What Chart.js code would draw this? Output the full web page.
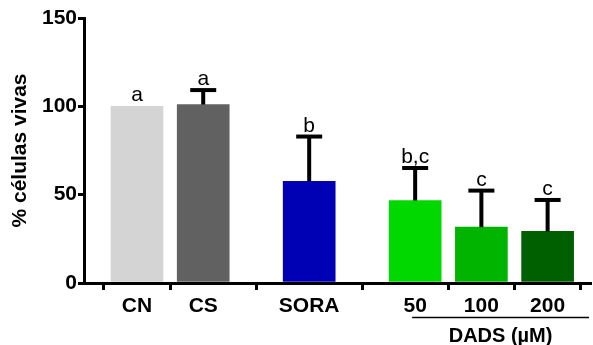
<!DOCTYPE html>
<html>
<head>
<meta charset="utf-8">
<script src="https://cdn.jsdelivr.net/npm/chart.js@4"></script>
<style>
  html, body { margin: 0; padding: 0; background: #fff; }
  #wrap { width: 593px; height: 345px; }
</style>
</head>
<body>
<div id="wrap"><canvas id="chart" width="593" height="345"></canvas></div>
<script>
  // Groups and where they sit on the x axis (gaps between groups)
  const groups = ['CN', 'CS', 'SORA', '50', '100', '200'];
  const xPositions = [0, 1, 2.6, 4.2, 5.2, 6.2];
  // Mean % living cells and upper error (SD)
  const viability = [100, 101, 57.6, 46.7, 31.6, 29.2];
  const errors = [0, 8.2, 25.3, 18.4, 20.7, 17.8];
  // Significance letters
  const letters = ['a', 'a', 'b', 'b,c', 'c', 'c'];
  const barColors = ['#d4d4d4', '#616161', '#0000b4', '#00d800', '#00b400', '#006000'];
  const yTicks = [0, 50, 100, 150];

  const FONT = '"Liberation Sans", Arial, sans-serif';

  // Draws error bars, letters and the DADS bracket
  const extras = {
    id: 'extras',
    afterDatasetsDraw(chart) {
      const ctx = chart.ctx;
      const x = chart.scales.x;
      const y = chart.scales.y;
      ctx.save();
      ctx.strokeStyle = '#000';
      ctx.fillStyle = '#000';
      xPositions.forEach((pos, i) => {
        const px = x.getPixelForValue(pos);
        const top = y.getPixelForValue(viability[i]);
        const capY = y.getPixelForValue(viability[i] + errors[i]);
        if (errors[i] > 0) {
          ctx.lineWidth = 4;
          ctx.beginPath();
          ctx.moveTo(px, top);
          ctx.lineTo(px, capY);
          ctx.stroke();
          ctx.beginPath();
          ctx.moveTo(px - 13, capY);
          ctx.lineTo(px + 13, capY);
          ctx.stroke();
        }
        ctx.font = '21px ' + FONT;
        ctx.textAlign = 'center';
        ctx.textBaseline = 'alphabetic';
        ctx.fillText(letters[i], px, capY - 5);
      });
      // bracket under the DADS concentrations
      const left = x.getPixelForValue(xPositions[3]) - 3;
      const right = chart.chartArea.right - 1;
      ctx.lineWidth = 1.5;
      ctx.beginPath();
      ctx.moveTo(left, 317.5);
      ctx.lineTo(right, 317.5);
      ctx.stroke();
      ctx.font = 'bold 20px ' + FONT;
      ctx.textBaseline = 'middle';
      ctx.fillText('DADS (µM)', (left + right) / 2, 336);
      ctx.restore();
    }
  };

  new Chart(document.getElementById('chart'), {
    type: 'bar',
    data: {
      datasets: [{
        data: xPositions.map((p, i) => ({ x: p, y: viability[i] })),
        backgroundColor: barColors,
        borderWidth: 0,
        barThickness: 52
      }]
    },
    options: {
      responsive: false,
      animation: false,
      layout: { padding: { top: 18, right: 3, left: 0, bottom: 0 } },
      plugins: { legend: { display: false }, tooltip: { enabled: false } },
      scales: {
        x: {
          type: 'linear',
          offset: false,
          min: -0.8,
          max: 6.84,
          afterFit: s => { s.height = 62; },
          afterBuildTicks: s => { s.ticks = xPositions.map(v => ({ value: v })); },
          border: { display: true, color: '#000', width: 3 },
          grid: { drawOnChartArea: false, drawTicks: true, tickLength: 7, color: '#000', lineWidth: 3 },
          ticks: {
            autoSkip: false,
            maxRotation: 0,
            padding: 4,
            color: '#000',
            font: { family: FONT, size: 21, weight: 'bold' },
            callback: (v, i) => groups[i]
          }
        },
        y: {
          min: 0,
          max: 150,
          afterFit: s => { s.width = 84; },
          afterBuildTicks: s => { s.ticks = yTicks.map(v => ({ value: v })); },
          border: { display: true, color: '#000', width: 3 },
          grid: { drawOnChartArea: false, drawTicks: true, tickLength: 6, color: '#000', lineWidth: 3 },
          ticks: {
            padding: 1,
            color: '#000',
            font: { family: FONT, size: 21, weight: 'bold' }
          },
          title: {
            display: true,
            text: '% células vivas',
            color: '#000',
            padding: { top: 8, bottom: 0 },
            font: { family: FONT, size: 21, weight: 'bold' }
          }
        }
      }
    },
    plugins: [extras]
  });
</script>
</body>
</html>
